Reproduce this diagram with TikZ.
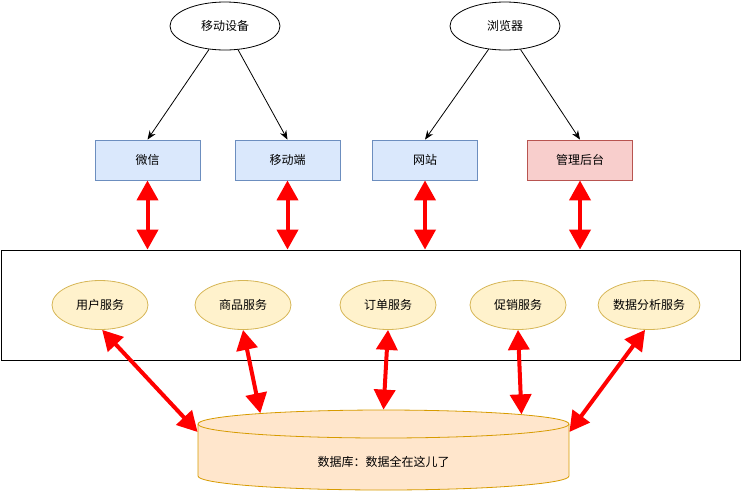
\documentclass[tikz,border=0pt]{standalone}
\usepackage{fontspec}
\setmainfont{Noto Sans CJK SC}
\usetikzlibrary{shapes.geometric,arrows.meta}
\definecolor{bluefill}{HTML}{DAE8FC}
\definecolor{blueline}{HTML}{6C8EBF}
\definecolor{redfill}{HTML}{F8CECC}
\definecolor{redline}{HTML}{B85450}
\definecolor{yellowfill}{HTML}{FFF2CC}
\definecolor{yellowline}{HTML}{D6B656}
\definecolor{orangefill}{HTML}{FFE6CC}
\definecolor{orangeline}{HTML}{D79B00}

\begin{document}
\begin{tikzpicture}[x=1pt,y=-1pt,line width=0.8pt,
  font=\fontsize{12}{14}\selectfont,
  device/.style={ellipse,draw,fill=white,minimum width=110pt,minimum height=48pt,inner sep=0pt},
  client/.style={rectangle,draw=blueline,fill=bluefill,minimum width=105pt,minimum height=40pt},
  service/.style={ellipse,draw=yellowline,fill=yellowfill,minimum width=96pt,minimum height=49pt,inner sep=0pt},
  link/.style={-{Stealth[length=9pt,width=7pt]}},
  sync/.style={{Triangle[length=20pt,width=21pt]}-{Triangle[length=20pt,width=21pt]},red,line width=4pt}]
\useasboundingbox (0,0) rectangle (741,491);

% Devices
\node[device] (mobile) at (225,26) {移动设备};
\node[device] (browser) at (505,26) {浏览器};

% Clients
\node[client] (wechat) at (147.5,160) {微信};
\node[client] (app) at (287.5,160) {移动端};
\node[client] (site) at (425,160) {网站};
\node[client,draw=redline,fill=redfill] (admin) at (580,160) {管理后台};

\draw[link] (mobile) -- (wechat.north);
\draw[link] (mobile) -- (app.north);
\draw[link] (browser) -- (site.north);
\draw[link] (browser) -- (admin.north);

% Service layer
\node[draw,minimum width=739pt,minimum height=110pt,inner sep=0pt] (layer) at (370.5,305) {};
\foreach \name/\x/\txt in {user/100/用户服务, goods/243/商品服务, order/388/订单服务,
                           promo/518/促销服务, stats/649/数据分析服务}
  \node[service] (\name) at (\x,305) {\txt};

\foreach \c in {wechat,app,site,admin}
  \draw[sync] (\c.south) -- (\c.south |- layer.north);

% Database
\path[fill=orangefill,draw=orangeline] (198,424) -- (198,476)
  arc[start angle=180,end angle=0,x radius=185.5,y radius=14] -- (569,424);
\node[ellipse,draw=orangeline,fill=orangefill,minimum width=371pt,minimum height=28pt,inner sep=0pt] (dbtop) at (383.5,424) {};
\node (db) at (383.5,462) {数据库：数据全在这儿了};

\draw[sync] (user.-85) -- ([yshift=-8pt]dbtop.west);
\draw[sync] (goods.south) -- (dbtop.175.5);
\draw[sync] (order.south) -- (dbtop.north);
\draw[sync] (promo.south) -- (dbtop.4.5);
\draw[sync] (stats.-99) -- ([yshift=-8pt]dbtop.east);
\end{tikzpicture}
\end{document}
